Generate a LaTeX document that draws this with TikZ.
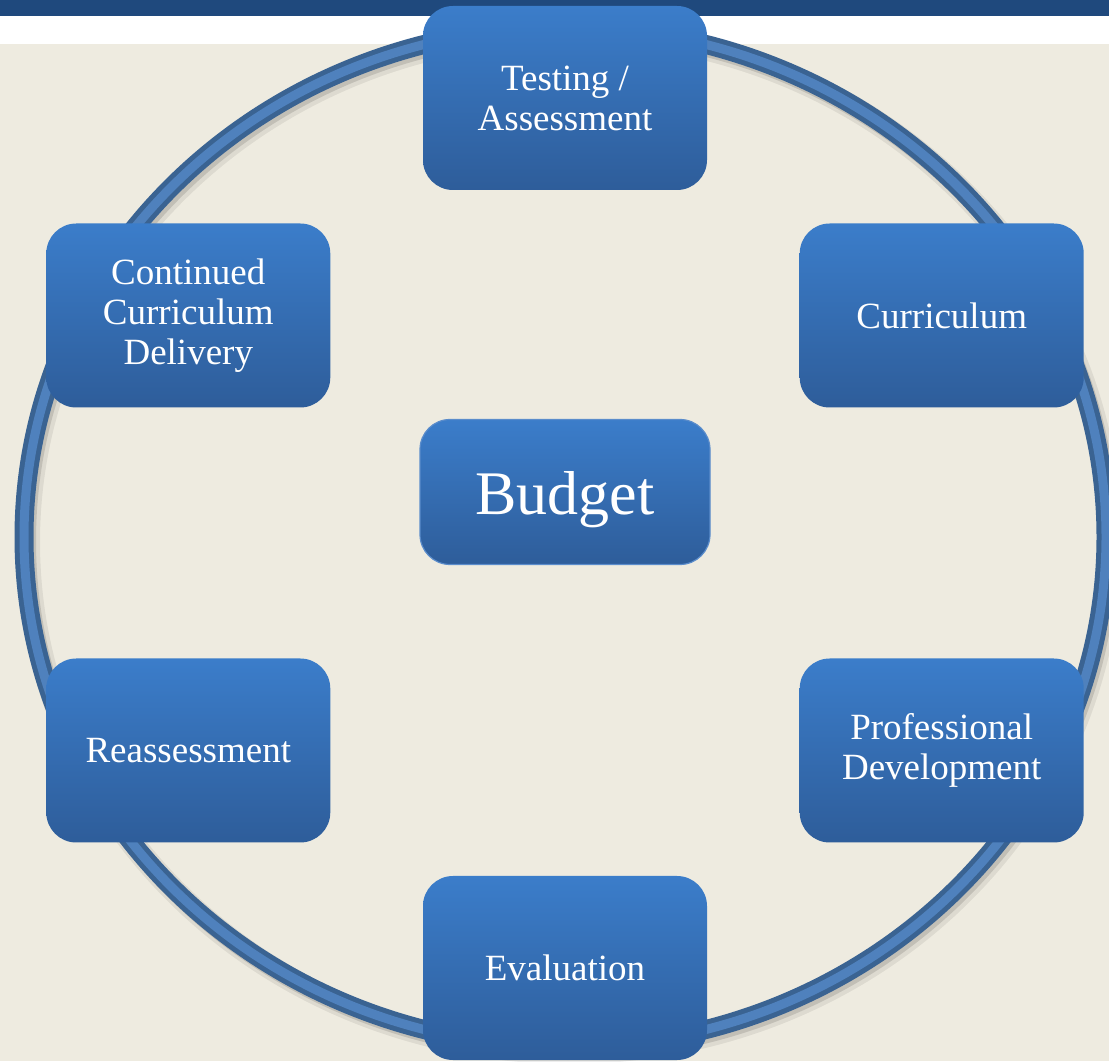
\documentclass[tikz,border=0pt]{standalone}
\usepackage{fontspec}
\setmainfont{Liberation Serif}
\usepackage{tikz}
\usetikzlibrary{shapes.geometric, positioning}

\definecolor{bandblue}{HTML}{1F497D}
\definecolor{paper}{HTML}{EEEBE0}
\definecolor{ringdark}{HTML}{3A6392}
\definecolor{ringlight}{HTML}{4F81BD}
\definecolor{boxtop}{HTML}{3B7DCA}
\definecolor{boxbottom}{HTML}{2E5D9A}
\definecolor{boxline}{HTML}{5A8CCB}

\begin{document}
\begin{tikzpicture}[x=0.5pt, y=0.5pt, font=\fontsize{18.5}{20}\selectfont]
		\tikzstyle{stage} = [rectangle, rounded corners=15pt, minimum width=142pt, minimum height=92pt, text centered, align=center, top color=boxtop, bottom color=boxbottom, text=white, inner sep=0pt]
		
		\tikzstyle{core} = [stage, minimum width=145pt, minimum height=72.5pt, draw=boxline, line width=0.6pt, font=\fontsize{31}{34}\selectfont, text height=25pt, text depth=2pt]
		
		\tikzstyle{ringshade} = [black, line width=12pt, opacity=0.07]
		
		\useasboundingbox (0,0) rectangle (1109,1061);
		
		% Background and the bands on top
		\fill[paper] (0,0) rectangle (1109,1017);
		\fill[white] (0,1017) rectangle (1109,1045);
		\fill[bandblue] (0,1045) rectangle (1109,1061);
		
		% The ring
		\coordinate (ringc) at (565,524);
		\draw[ringshade] ([shift={(4,-5)}]ringc) ellipse [x radius=541, y radius=510];
		\draw[ringshade, line width=9pt, opacity=0.12] ([shift={(3,-4)}]ringc) ellipse [x radius=541, y radius=510];
		\draw[draw=ringdark, line width=9.5pt] (ringc) ellipse [x radius=541, y radius=510];
		\draw[draw=ringlight, line width=4.5pt] (ringc) ellipse [x radius=541, y radius=510];
		
		% Centre node
		\coordinate (hub) at (565,528);
		\node (budget) [core] at (565,569) {Budget};
		
		% Nodes on the ring
		\node (testing) [stage] at ([shift={(90:435)}]hub) {Testing /\\Assessment};
		\node (curriculum) [stage] at ([shift={(30:435)}]hub) {Curriculum};
		\node (profdev) [stage] at ([shift={(-30:435)}]hub) {Professional\\Development};
		\node (evaluation) [stage] at ([shift={(-90:435)}]hub) {Evaluation};
		\node (reassess) [stage] at ([shift={(210:435)}]hub) {Reassessment};
		\node (continued) [stage] at ([shift={(150:435)}]hub) {Continued\\Curriculum\\Delivery};
		
\end{tikzpicture}
\end{document}
